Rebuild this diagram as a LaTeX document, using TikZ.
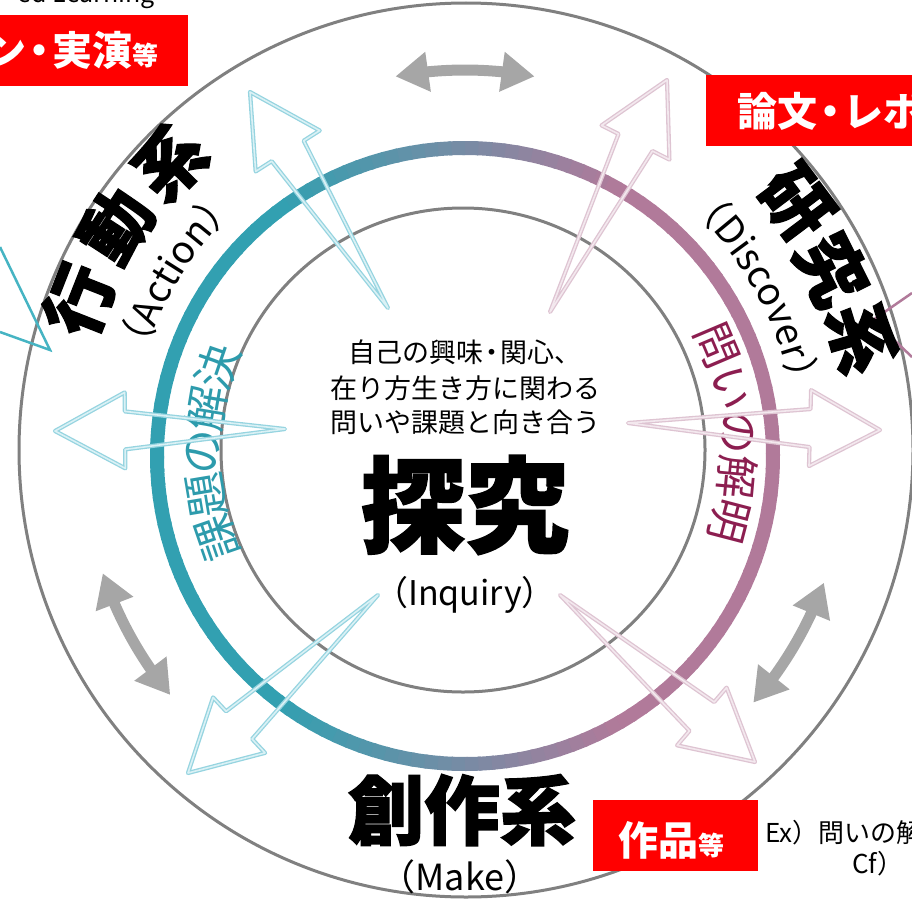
\documentclass[tikz,border=0pt]{standalone}
\usepackage{fontspec}
\newfontfamily\jp{Noto Sans CJK JP}
\newfontfamily\jpheavy{Noto Sans CJK JP}[BoldFeatures={FakeBold=1.6}]
\usetikzlibrary{calc,arrows.meta,bending,decorations.text}
\definecolor{ringteal}{RGB}{50,160,177}
\definecolor{ringmauve}{RGB}{177,122,154}
\definecolor{circgray}{RGB}{128,128,128}
\definecolor{arrowteal}{RGB}{150,212,224}
\definecolor{arrowteallt}{RGB}{218,241,245}
\definecolor{arrowpink}{RGB}{222,196,210}
\definecolor{arrowpinklt}{RGB}{243,232,238}
\definecolor{graytip}{RGB}{166,166,166}
\definecolor{textteal}{RGB}{45,155,172}
\definecolor{textplum}{RGB}{140,30,80}
\definecolor{calloutteal}{RGB}{70,180,195}
\definecolor{calloutmauve}{RGB}{177,122,154}
\definecolor{boxred}{RGB}{255,0,0}
\newcommand{\fs}[1]{\fontsize{#1}{#1}\selectfont}
\newcommand{\blockarrow}[3]{%
  \coordinate (ba-T) at (#1);
  \coordinate (ba-P) at (#2);
  \coordinate (ba-B) at ($(ba-P)!70pt!(ba-T)$);
  \draw[#3] (ba-T) -- ($(ba-B)!19pt!90:(ba-P)$) -- ($(ba-B)!38pt!90:(ba-P)$)
    -- (ba-P) -- ($(ba-B)!38pt!-90:(ba-P)$) -- ($(ba-B)!19pt!-90:(ba-P)$) -- cycle;
}
\begin{document}
\begin{tikzpicture}[x=1pt,y=1pt,
  every node/.style={font=\jp, inner sep=0pt},
  tealarrow/.style={draw=arrowteal, double=arrowteallt, line width=1.3, double distance=1.6, line join=round},
  pinkarrow/.style={draw=arrowpink, double=arrowpinklt, line width=1.3, double distance=1.6, line join=round},
  grayarr/.style={graytip, line width=11, {Triangle[length=33pt,width=38pt]}-{Triangle[length=33pt,width=38pt]}},
  redbox/.style={fill=boxred, draw=none},
  boxtext/.style={text=white, font=\jp\bfseries\fs{40}},
  bigtext/.style={font=\jpheavy\bfseries\fs{70}},
  midtext/.style={font=\jp\fs{27}}
]
\useasboundingbox (0,0) rectangle (912,-899);
\coordinate (C) at (465,-452);
\coordinate (OC) at (466,-450);
\coordinate (RC) at (465,-456);
\coordinate (IC) at (463,-450);

% circles
\draw[circgray, line width=3] (OC) circle[radius=447];
\draw[circgray, line width=3] (IC) circle[radius=242];

% gradient ring
\foreach \a in {0,2.5,...,357.5}{
  \pgfmathsetmacro\f{(cos(\a+1.25)+1)/2}
  \pgfmathsetmacro\p{max(0,min(100,(\f-0.2)/0.55*100))}
  \draw[ringmauve!\p!ringteal, line width=14] ($(RC)+(\a:308)$) arc[start angle=\a, end angle=\a+3, radius=308];
}

% gray double arrows
\draw[grayarr] ($(C)+(79.5:382)$) arc[start angle=79.5, end angle=100.5, radius=382];
\draw[grayarr] ($(C)+(198.5:382)$) arc[start angle=198.5, end angle=219.5, radius=382];
\draw[grayarr] ($(C)+(-41:382)$) arc[start angle=-41, end angle=-20, radius=382];

% callout pointers
\coordinate (cl1) at (0,-247); \coordinate (cl2) at (50,-350); \coordinate (cl3) at (0,-332);
\draw[calloutteal, line width=2.5, line join=miter] (cl1) -- (cl2) -- (cl3);
\coordinate (cr1) at (912,-293); \coordinate (cr2) at (873,-320); \coordinate (cr3) at (912,-357);
\draw[calloutmauve, line width=2.5, line join=miter] (cr1) -- (cr2) -- (cr3);

% red boxes
\fill[redbox] (-10,-15) rectangle (188,-86);
\fill[redbox] (706,-75) rectangle (922,-146);
\fill[redbox] (593,-800) rectangle (758,-871);
\node[boxtext, anchor=base east] (b1) at (159,-65) {ン\kern-7pt・\kern-7pt実演{\fs{26}等}};
\node[boxtext, anchor=base west] (b2) at (737,-126) {論文\kern-7pt・\kern-7ptレポ};
\node[boxtext, anchor=base west] (b3) at (618,-855) {作品{\fs{26}等}};

% marginal texts
\node[font=\jp\fs{25}, anchor=base east] (pbl) at (155,-3) {ed Learning};
\node[font=\jp\fs{26}, anchor=base west] (ex) at (765,-842) {Ex）問いの解};
\node[font=\jp\fs{26}, anchor=base west] (cf) at (852,-873) {Cf）};

% centre texts
\node[midtext] (m1) at (465,-352) {自己の興味\kern-5pt・\kern-5pt関心、};
\node[midtext] (m2) at (465,-388) {在り方生き方に関わる};
\node[midtext] (m3) at (465,-422) {問いや課題と向き合う};
\node[font=\jpheavy\bfseries\fs{104}] (tq) at (465,-505) {探究};
\node[font=\jp\fs{34}] (inq) at (465,-595) {（Inquiry）};
\node[font=\jpheavy\bfseries\fs{76}] (make) at (462,-810) {創作系};
\node[font=\jp\fs{36}] (makee) at (460,-877) {（Make）};

% curved big texts
\foreach \ch/\t/\r in {行/158.5/415, 動/147/416, 系/135.5/414}
  \node[bigtext, rotate=\t-90] at ($(C)+(\t:\r)$) {\ch};
\foreach \ch/\t/\r in {研/37/414, 究/26.5/410, 系/16/413}
  \node[bigtext, rotate=\t-90] at ($(C)+(\t:\r)$) {\ch};
\foreach \ch/\t in {課/199, 題/189.5, の/180, 解/170.5, 決/161}
  \node[font=\jp\fs{45}, text=textteal, rotate=\t-90] at ($(C)+(\t:262)$) {\ch};
\foreach \ch/\t in {問/23, い/13.6, の/4.2, 解/-5.2, 明/-14.6}
  \node[font=\jp\fs{44}, text=textplum, rotate=\t-90] at ($(C)+(\t:273)$) {\ch};

\path[decorate, decoration={text along path, text={|\jp\fs{38}|（Action）}, text align=center}]
  ($(C)+(188.5:334)$) arc[start angle=188.5, end angle=108.5, radius=334];
\path[decorate, decoration={text along path, text={|\jp\fs{38}|（Discover）}, text align=center}]
  ($(C)+(73.8:332)$) arc[start angle=73.8, end angle=-16.2, radius=332];

% open block arrows
\blockarrow{388,-308}{250,-92}{tealarrow}
\blockarrow{285,-429}{55,-431}{tealarrow}
\blockarrow{378,-595}{188,-773}{tealarrow}
\blockarrow{550,-312}{667,-80}{pinkarrow}
\blockarrow{628,-423}{880,-430}{pinkarrow}
\blockarrow{560,-595}{755,-762}{pinkarrow}
\end{tikzpicture}
\end{document}
